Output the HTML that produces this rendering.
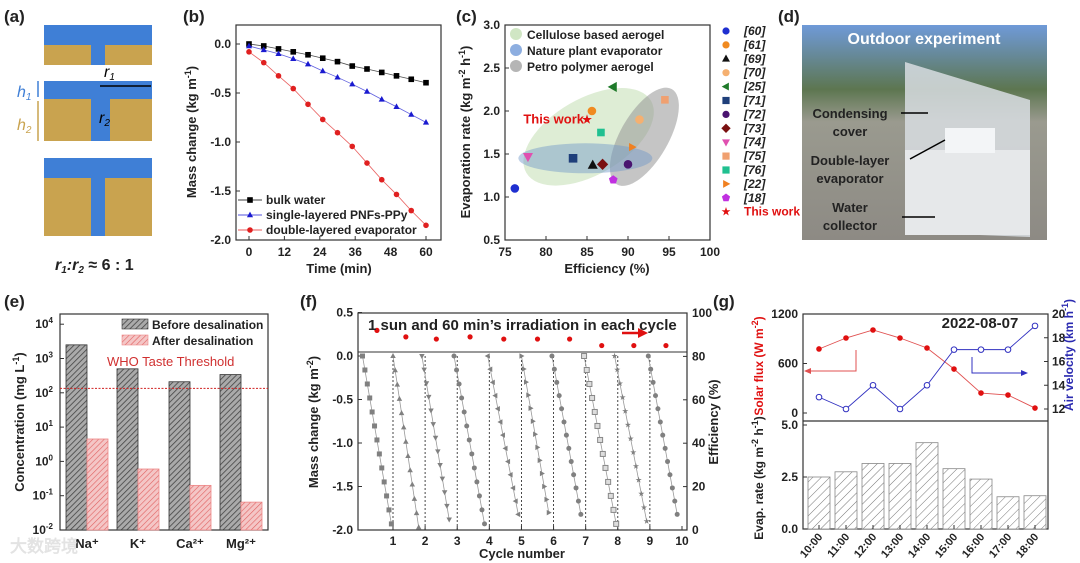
<!DOCTYPE html>
<html><head><meta charset="utf-8"><style>
body{margin:0;background:#fff;}
svg{display:block;font-family:"Liberation Sans",Arial,sans-serif;}
.t{font-weight:bold;fill:#222;}
</style></head><body>
<svg id="fig" width="1080" height="563" viewBox="0 0 1080 563" xmlns="http://www.w3.org/2000/svg">
<defs>
<pattern id="hg" width="4" height="4" patternUnits="userSpaceOnUse" patternTransform="rotate(45)"><rect width="4" height="4" fill="#aaa"/><line x1="0" y1="0" x2="0" y2="4" stroke="#444" stroke-width="1.6"/></pattern>
<pattern id="hr" width="4" height="4" patternUnits="userSpaceOnUse" patternTransform="rotate(45)"><rect width="4" height="4" fill="#f4c6c6"/><line x1="0" y1="0" x2="0" y2="4" stroke="#e06060" stroke-width="1.2"/></pattern>
<pattern id="hw" width="6" height="6" patternUnits="userSpaceOnUse" patternTransform="rotate(45)"><rect width="6" height="6" fill="#fff"/><line x1="0" y1="0" x2="0" y2="6" stroke="#777" stroke-width="1"/></pattern>
<linearGradient id="sky" x1="0" y1="0" x2="0" y2="1"><stop offset="0" stop-color="#6f9ad8"/><stop offset="0.3" stop-color="#5d7650"/><stop offset="0.45" stop-color="#9a9a8f"/><stop offset="1" stop-color="#8d8a84"/></linearGradient>
</defs>
<g id="labels" font-size="17" class="t">
<text x="4" y="22">(a)</text>
<text x="183" y="22">(b)</text>
<text x="456" y="22">(c)</text>
<text x="778" y="22">(d)</text>
<text x="4" y="307">(e)</text>
<text x="300" y="307">(f)</text>
<text x="713" y="307">(g)</text>
</g>
<!-- (a) schematic -->
<g>
<rect x="44" y="25" width="108" height="20" fill="#3f7fd6"/><rect x="44" y="45" width="47" height="20" fill="#c9a34f"/><rect x="105" y="45" width="47" height="20" fill="#c9a34f"/><rect x="91" y="45" width="14" height="20" fill="#3f7fd6"/>
<rect x="44" y="81" width="108" height="18" fill="#3f7fd6"/><rect x="44" y="99" width="47" height="42" fill="#c9a34f"/><rect x="110" y="99" width="42" height="42" fill="#c9a34f"/><rect x="91" y="99" width="19" height="42" fill="#3f7fd6"/>
<rect x="44" y="158" width="108" height="20" fill="#3f7fd6"/><rect x="44" y="178" width="47" height="58" fill="#c9a34f"/><rect x="105" y="178" width="47" height="58" fill="#c9a34f"/><rect x="91" y="178" width="14" height="58" fill="#3f7fd6"/>
<line x1="100" y1="86" x2="151" y2="86" stroke="#000" stroke-width="1.5"/>
<line x1="38" y1="81" x2="38" y2="97" stroke="#3f7fd6" stroke-width="1.5"/><line x1="38" y1="101" x2="38" y2="141" stroke="#c9a34f" stroke-width="1.5"/>
<text x="17" y="97" font-size="16" font-style="italic" fill="#3f7fd6">h<tspan font-size="10" dy="3">1</tspan></text>
<text x="17" y="130" font-size="16" font-style="italic" fill="#c9a34f">h<tspan font-size="10" dy="3">2</tspan></text>
<text x="104" y="77" font-size="16" font-style="italic">r<tspan font-size="10" dy="3">1</tspan></text>
<text x="99" y="123" font-size="16" font-style="italic">r<tspan font-size="10" dy="3">2</tspan></text>
<text x="55" y="270" font-size="16" class="t" font-style="italic">r<tspan font-size="10" dy="3">1</tspan><tspan dy="-3">:r</tspan><tspan font-size="10" dy="3">2</tspan><tspan dy="-3" font-style="normal"> ≈ 6 : 1</tspan></text>
</g>
<!-- (d) photo -->
<g>
<rect x="802" y="25" width="245" height="215" fill="url(#sky)"/>
<polygon points="905,62 1030,100 1030,237 905,232" fill="#d8dde2" opacity="0.85"/>
<rect x="905" y="150" width="125" height="85" fill="#e6e8ea"/>
<rect x="945" y="128" width="50" height="25" fill="#f3f5f7"/>
<text x="924" y="44" font-size="16" font-weight="bold" fill="#fff" text-anchor="middle">Outdoor experiment</text>
<g font-size="13" class="t" text-anchor="middle">
<text x="850" y="118">Condensing</text><text x="850" y="136">cover</text>
<text x="850" y="165">Double-layer</text><text x="850" y="183">evaporator</text>
<text x="850" y="212">Water</text><text x="850" y="230">collector</text></g>
<g stroke="#000" stroke-width="1.5"><line x1="901" y1="113" x2="928" y2="113"/><line x1="910" y1="159" x2="945" y2="140"/><line x1="902" y1="217" x2="935" y2="217"/></g>
</g>
<g id="gb"></g>
<g id="gc"></g>
<g id="ge"></g>
<g id="gf"></g>
<g id="gg"></g>
</svg>
<script>
// ---- data ----
const bTime=[0,5,10,15,20,25,30,35,40,45,50,55,60];
const bBulk=[0,-0.02,-0.05,-0.08,-0.11,-0.145,-0.18,-0.225,-0.255,-0.29,-0.325,-0.36,-0.395];
const bSingle=[-0.02,-0.06,-0.1,-0.15,-0.205,-0.275,-0.34,-0.41,-0.485,-0.565,-0.64,-0.72,-0.8];
const bDouble=[-0.08,-0.19,-0.325,-0.455,-0.615,-0.77,-0.905,-1.045,-1.215,-1.385,-1.535,-1.7,-1.85];
const bXTicks=[0,12,24,36,48,60];
const bYTicks=[0,-0.5,-1,-1.5,-2];
const cRefs=["[60]","[61]","[69]","[70]","[25]","[71]","[72]","[73]","[74]","[75]","[76]","[22]","[18]","This work"];
const cEff=[76.2,85.6,85.7,91.4,88.2,83.3,90.0,86.9,77.8,94.5,86.7,90.5,88.2,85.0];
const cRate=[1.1,2.0,1.37,1.9,2.28,1.45,1.38,1.38,1.47,2.13,1.75,1.58,1.2,1.9];
const cXTicks=[75,80,85,90,95,100];
const cYTicks=[0.5,1.0,1.5,2.0,2.5,3.0];
const eIons=["Na⁺","K⁺","Ca²⁺","Mg²⁺"];
const eBefore=[2500,500,210,340];
const eAfter=[4.5,0.6,0.2,0.065];
const eThreshold=135;
const fCycleStart=[0.05,1.0,1.9,2.9,3.95,5.0,5.95,6.95,7.9,8.95];
const fCycleEndX=[0.95,1.8,2.75,3.85,4.9,5.85,6.85,7.95,8.9,9.85];
const fCycleEndY=[-1.93,-1.97,-1.88,-1.93,-1.82,-1.80,-1.82,-1.93,-1.90,-1.82];
const fEffX=[0.5,1.4,2.35,3.4,4.45,5.5,6.5,7.5,8.5,9.5];
const fEff=[92,89,88,89,88,88,88,85,85,85];
const gHours=["10:00","11:00","12:00","13:00","14:00","15:00","16:00","17:00","18:00"];
const gSolar=[776,909,1006,909,788,533,242,218,60];
const gAir=[13,12,14,12,14,17,17,17,19];
const gEvap=[2.5,2.75,3.15,3.15,4.15,2.9,2.4,1.55,1.6];

const NS="http://www.w3.org/2000/svg";
function mk(p,tag,at,txt){const e=document.createElementNS(NS,tag);for(const k in at)e.setAttribute(k,at[k]);if(txt!==undefined)e.textContent=txt;p.appendChild(e);return e;}
function lin(d0,d1,r0,r1){return v=>r0+(v-d0)*(r1-r0)/(d1-d0);}
function marker(p,shape,x,y,s,fill,stroke){
  let e;
  if(shape==="sq")e=mk(p,"rect",{x:x-s,y:y-s,width:2*s,height:2*s,fill:fill,stroke:stroke});
  else if(shape==="tri")e=mk(p,"polygon",{points:`${x},${y-s*1.2} ${x-s*1.1},${y+s*0.8} ${x+s*1.1},${y+s*0.8}`,fill:fill,stroke:stroke});
  else if(shape==="dtri")e=mk(p,"polygon",{points:`${x},${y+s*1.2} ${x-s*1.1},${y-s*0.8} ${x+s*1.1},${y-s*0.8}`,fill:fill,stroke:stroke});
  else if(shape==="ltri")e=mk(p,"polygon",{points:`${x-s*1.2},${y} ${x+s*0.8},${y-s*1.1} ${x+s*0.8},${y+s*1.1}`,fill:fill,stroke:stroke});
  else if(shape==="rtri")e=mk(p,"polygon",{points:`${x+s*1.2},${y} ${x-s*0.8},${y-s*1.1} ${x-s*0.8},${y+s*1.1}`,fill:fill,stroke:stroke});
  else if(shape==="dia")e=mk(p,"polygon",{points:`${x},${y-s*1.3} ${x+s*1.3},${y} ${x},${y+s*1.3} ${x-s*1.3},${y}`,fill:fill,stroke:stroke});
  else if(shape==="pent")e=mk(p,"polygon",{points:[0,1,2,3,4].map(i=>{const a=-Math.PI/2+i*2*Math.PI/5;return (x+s*1.2*Math.cos(a))+","+(y+s*1.2*Math.sin(a));}).join(" "),fill:fill,stroke:stroke});
  else if(shape==="star")e=mk(p,"polygon",{points:[...Array(10).keys()].map(i=>{const a=-Math.PI/2+i*Math.PI/5,r=i%2?s*0.5:s*1.3;return (x+r*Math.cos(a))+","+(y+r*Math.sin(a));}).join(" "),fill:fill,stroke:stroke});
  else e=mk(p,"circle",{cx:x,cy:y,r:s,fill:fill,stroke:stroke});
  return e;
}
function txt(p,x,y,s,opt){return mk(p,"text",Object.assign({x:x,y:y,"font-size":12,"font-weight":"bold",fill:"#222"},opt||{}),s);}
function vtitle(p,x,y,html,opt){const t=mk(p,"text",Object.assign({x:0,y:0,"font-size":13,"font-weight":"bold",fill:"#222","text-anchor":"middle",transform:`translate(${x},${y}) rotate(-90)`},opt||{}));t.innerHTML=html;return t;}

// ---- (b) ----
(function(){
const g=document.getElementById("gb");
const X=lin(0,60,249,426),Y=lin(0,-2,44,240);
mk(g,"rect",{x:236,y:25,width:205,height:215,fill:"none",stroke:"#333","stroke-width":1.2});
bXTicks.forEach(t=>{mk(g,"line",{x1:X(t),y1:240,x2:X(t),y2:236,stroke:"#333"});const l=txt(g,X(t),256,String(t),{"text-anchor":"middle"});});
bYTicks.forEach(t=>{mk(g,"line",{x1:236,y1:Y(t),x2:240,y2:Y(t),stroke:"#333"});const l=txt(g,231,Y(t)+4,t.toFixed(1),{"text-anchor":"end"});});
txt(g,339,273,"Time (min)",{"text-anchor":"middle","font-size":13});
vtitle(g,196,132,'Mass change (kg m<tspan font-size="9" dy="-5">-1</tspan><tspan dy="5">)</tspan>');
const series=[[bBulk,"#000","sq","bulk water"],[bSingle,"#1a1ad0","tri","single-layered PNFs-PPy"],[bDouble,"#e02020","circ","double-layered evaporator"]];
series.forEach((s,k)=>{
  const line=mk(g,"polyline",{points:bTime.map((t,i)=>X(t)+","+Y(s[0][i])).join(" "),fill:"none",stroke:s[1],"stroke-width":0.8,opacity:0.7});
  
  bTime.forEach((t,i)=>{const m=marker(g,s[2],X(t),Y(s[0][i]),2.8,s[1],"none");});
  const ly=200+k*15;
  mk(g,"line",{x1:238,y1:ly,x2:262,y2:ly,stroke:s[1],"stroke-width":0.8});
  const lm=marker(g,s[2],250,ly,2.8,s[1],"none");
  txt(g,266,ly+4,s[3]);
});
})();

// ---- (c) ----
(function(){
const g=document.getElementById("gc");
const X=lin(75,100,505,710),Y=lin(0.5,3.0,240,25);
mk(g,"rect",{x:505,y:25,width:205,height:215,fill:"#fff",stroke:"#333","stroke-width":1.2});
// ellipses
function ell(cx,cy,rx,ry,rot,fill,nm){const e=mk(g,"ellipse",{cx:X(cx),cy:Y(cy),rx:rx,ry:ry,transform:`rotate(${rot} ${X(cx)} ${Y(cy)})`,fill:fill});}
ell(85.2,1.7,72,38,-30,"rgba(200,225,185,0.6)","cellulose-region");
ell(92,1.7,55,24,-60,"rgba(150,150,150,0.55)","petro-region");
ell(84.8,1.45,67,15,0,"rgba(110,150,200,0.45)","nature-plant-region");
cXTicks.forEach(t=>{mk(g,"line",{x1:X(t),y1:240,x2:X(t),y2:236,stroke:"#333"});txt(g,X(t),256,String(t),{"text-anchor":"middle"});});
cYTicks.forEach(t=>{mk(g,"line",{x1:505,y1:Y(t),x2:509,y2:Y(t),stroke:"#333"});txt(g,500,Y(t)+4,t.toFixed(1),{"text-anchor":"end"});});
txt(g,607,273,"Efficiency (%)",{"text-anchor":"middle","font-size":13});
vtitle(g,470,132,'Evaporation rate (kg m<tspan font-size="9" dy="-5">-2</tspan><tspan dy="5"> h</tspan><tspan font-size="9" dy="-5">-1</tspan><tspan dy="5">)</tspan>');
[["#d0e6c4","Cellulose based aerogel"],["#8daee0","Nature plant evaporator"],["#b5b5b5","Petro polymer aerogel"]].forEach((l,i)=>{mk(g,"circle",{cx:516,cy:34+i*16,r:6,fill:l[0]});txt(g,527,39+i*16,l[1],{"font-size":12});});
const shapes=["circ","circ","tri","circ","ltri","sq","circ","dia","dtri","sq","sq","rtri","pent","star"];
const cols=["#1f2fd0","#f08a20","#111","#f5b070","#1f7a2a","#1f3f7a","#4a1470","#7a1010","#e050b0","#f0a070","#20c090","#f08020","#c030e0","#e01010"];
cRefs.forEach((r,i)=>{
  const m=marker(g,shapes[i],X(cEff[i]),Y(cRate[i]),i===13?4:3.8,cols[i],(i===9||i===10||i===11||i===12||i===13)?"none":cols[i]);
  
  const ly=31+i*13.9;
  const lm=marker(g,shapes[i],726,ly,3.6,cols[i],"none");
  const lt=txt(g,744,ly+4,r,{"font-style":i<13?"italic":"normal",fill:i===13?"#e01010":"#222"});
});
txt(g,X(85)-3,Y(1.9)+4,"This work",{"text-anchor":"end",fill:"#e01010","font-size":13});
})();

// ---- (e) ----
(function(){
const g=document.getElementById("ge");
const Y=v=>530-(Math.log10(v)+2)*34.3;
mk(g,"rect",{x:60,y:314,width:208,height:216,fill:"#fff",stroke:"#333","stroke-width":1.2});
const cx=[87,138,190,241];
eIons.forEach((ion,i)=>{
  const b=mk(g,"rect",{x:cx[i]-21,y:Y(eBefore[i]),width:21,height:530-Y(eBefore[i]),fill:"url(#hg)",stroke:"#333","stroke-width":0.8});
  const a=mk(g,"rect",{x:cx[i],y:Y(eAfter[i]),width:21,height:530-Y(eAfter[i]),fill:"url(#hr)",stroke:"#e88","stroke-width":0.8});
  txt(g,cx[i],548,ion,{"text-anchor":"middle","font-size":13});
});
for(let p=-2;p<=4;p++){const y=530-(p+2)*34.3;mk(g,"line",{x1:60,y1:y,x2:64,y2:y,stroke:"#333"});const t=txt(g,53,y+4,"",{"text-anchor":"end","font-size":12});t.innerHTML='10<tspan font-size="8" dy="-5">'+p+'</tspan>';}
const th=mk(g,"line",{x1:60,y1:Y(eThreshold),x2:268,y2:Y(eThreshold),stroke:"#d02020","stroke-dasharray":"2,1.5","stroke-width":1});
txt(g,107,366,"WHO Taste Threshold",{fill:"#d03030","font-weight":"normal","font-size":13});
mk(g,"rect",{x:122,y:319,width:26,height:10,fill:"url(#hg)",stroke:"#333","stroke-width":0.6});
mk(g,"rect",{x:122,y:335,width:26,height:10,fill:"url(#hr)",stroke:"#e88","stroke-width":0.6});
txt(g,152,329,"Before desalination",{"font-size":12});
txt(g,152,345,"After desalination",{"font-size":12});
vtitle(g,24,422,'Concentration (mg L<tspan font-size="9" dy="-5">-1</tspan><tspan dy="5">)</tspan>');
txt(g,10,552,"大数跨境",{fill:"#ddd","font-size":17,opacity:0.8});
})();

// ---- (f) ----
(function(){
const g=document.getElementById("gf");
const X=lin(1,10,393,682),Y=lin(0,-2,356,530),E=lin(0,100,530,313);
mk(g,"rect",{x:358,y:313,width:329,height:217,fill:"#fff",stroke:"#333","stroke-width":1.2});
mk(g,"line",{x1:358,y1:352,x2:687,y2:352,stroke:"#333","stroke-width":1});
for(let c=1;c<=10;c++){mk(g,"line",{x1:X(c),y1:530,x2:X(c),y2:526,stroke:"#333"});txt(g,X(c),545,String(c),{"text-anchor":"middle"});if(c<10)mk(g,"line",{x1:X(c),y1:356,x2:X(c),y2:530,stroke:"#333","stroke-dasharray":"2,2","stroke-width":0.9});}
[0.5,0,-0.5,-1,-1.5,-2].forEach(t=>{mk(g,"line",{x1:358,y1:Y(t),x2:362,y2:Y(t),stroke:"#333"});txt(g,353,Y(t)+4,t.toFixed(1),{"text-anchor":"end"});});
[0,20,40,60,80,100].forEach(t=>{mk(g,"line",{x1:687,y1:E(t),x2:683,y2:E(t),stroke:"#333"});txt(g,692,E(t)+4,String(t));});
const sh=["sq","tri","dtri","circ","ltri","rtri","circ","sq","star","circ"];
fCycleStart.forEach((s,i)=>{
  const n=13,x1=fCycleEndX[i],y1=fCycleEndY[i];
  const pts=[...Array(n).keys()].map(k=>[s+(x1-s)*k/(n-1),y1*k/(n-1)]);
  const l=mk(g,"polyline",{points:pts.map(p=>X(p[0])+","+Y(p[1])).join(" "),fill:"none",stroke:"#999","stroke-width":0.8});
  pts.forEach(p=>{const m=marker(g,sh[i],X(p[0]),Y(p[1]),2.5,i===7?"#ddd":"#808080",i===7?"#888":"none");});
});
fEffX.forEach((c,i)=>{const d=mk(g,"circle",{cx:X(c),cy:E(fEff[i]),r:2.6,fill:"#e01010"});});
txt(g,368,330,"1 sun and 60 min’s irradiation in each cycle",{"font-size":15});
mk(g,"line",{x1:622,y1:333,x2:640,y2:333,stroke:"#e01010","stroke-width":2.5});
mk(g,"polygon",{points:"638,328 648,333 638,338",fill:"#e01010"});
txt(g,522,558,"Cycle number",{"text-anchor":"middle","font-size":13});
vtitle(g,318,422,'Mass change (kg m<tspan font-size="9" dy="-5">-2</tspan><tspan dy="5">)</tspan>');
vtitle(g,718,422,'Efficiency (%)');
})();

// ---- (g) ----
(function(){
const g=document.getElementById("gg");
const X=i=>819+i*27,S=lin(0,1200,413,314),A=lin(12,20,409,314),V=lin(0,5,529,425);
mk(g,"rect",{x:803,y:314,width:245,height:215,fill:"#fff",stroke:"#333","stroke-width":1.2});
mk(g,"line",{x1:803,y1:421,x2:1048,y2:421,stroke:"#333","stroke-width":1.2});
gEvap.forEach((v,i)=>{const b=mk(g,"rect",{x:X(i)-11,y:V(v),width:22,height:529-V(v),fill:"url(#hw)",stroke:"#888","stroke-width":0.8});});
const ls=mk(g,"polyline",{points:gSolar.map((v,i)=>X(i)+","+S(v)).join(" "),fill:"none",stroke:"#e05050","stroke-width":0.9});
gSolar.forEach((v,i)=>{const c=mk(g,"circle",{cx:X(i),cy:S(v),r:2.8,fill:"#e01010"});});
const la=mk(g,"polyline",{points:gAir.map((v,i)=>X(i)+","+A(v)).join(" "),fill:"none",stroke:"#3030c0","stroke-width":0.9});
gAir.forEach((v,i)=>{const c=mk(g,"circle",{cx:X(i),cy:A(v),r:2.8,fill:"#fff",stroke:"#3030c0"});});
[0,600,1200].forEach(t=>{mk(g,"line",{x1:803,y1:S(t),x2:807,y2:S(t),stroke:"#333"});txt(g,798,S(t)+4,String(t),{"text-anchor":"end"});});
[12,14,16,18,20].forEach(t=>{mk(g,"line",{x1:1048,y1:A(t),x2:1044,y2:A(t),stroke:"#333"});txt(g,1052,A(t)+4,String(t));});
[0,2.5,5].forEach(t=>{mk(g,"line",{x1:803,y1:V(t),x2:807,y2:V(t),stroke:"#333"});txt(g,798,V(t)+4,t.toFixed(1),{"text-anchor":"end"});});
gHours.forEach((h,i)=>{mk(g,"line",{x1:X(i),y1:529,x2:X(i),y2:525,stroke:"#333"});const t=txt(g,0,0,h,{"text-anchor":"end","font-size":11,transform:`translate(${X(i)+4},${537}) rotate(-50)`});});
txt(g,980,328,"2022-08-07",{"text-anchor":"middle","font-size":15});
mk(g,"polyline",{points:"856,350 856,371 808,371",fill:"none",stroke:"#e05050","stroke-width":1});
mk(g,"polygon",{points:"804,371 811,368 811,374",fill:"#e05050"});
mk(g,"polyline",{points:"972,357 972,373 1024,373",fill:"none",stroke:"#3030c0","stroke-width":1});
mk(g,"polygon",{points:"1028,373 1021,370 1021,376",fill:"#3030c0"});
vtitle(g,763,366,'Solar flux (W m<tspan font-size="9" dy="-5">-2</tspan><tspan dy="5">)</tspan>',{fill:"#e01010","font-size":12});
vtitle(g,763,478,'Evap. rate (kg m<tspan font-size="9" dy="-5">-2</tspan><tspan dy="5"> h</tspan><tspan font-size="9" dy="-5">-1</tspan><tspan dy="5">)</tspan>',{"font-size":12});
vtitle(g,1073,355,'Air velocity (km h<tspan font-size="9" dy="-5">-1</tspan><tspan dy="5">)</tspan>',{fill:"#2a2ab0","font-size":12});
})();
</script>
</body></html>
